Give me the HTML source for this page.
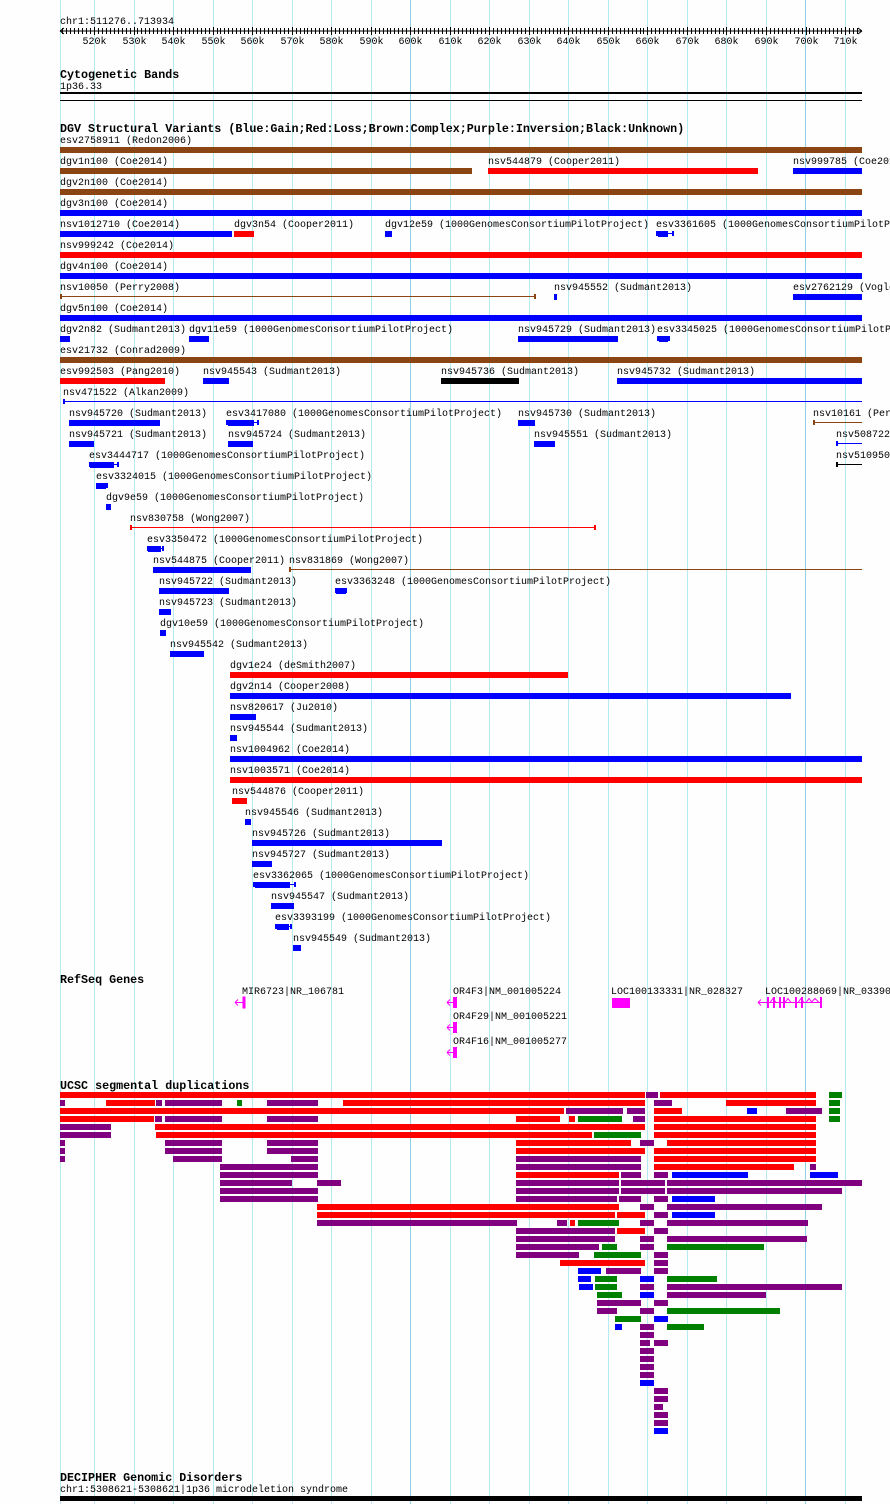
<!DOCTYPE html>
<html><head><meta charset="utf-8">
<style>
body{margin:0;background:#fff;}
#c{position:relative;width:890px;height:1504px;overflow:hidden;background:#fdfefd;}
.t{position:absolute;font-family:"Liberation Mono",monospace;font-size:10px;line-height:12px;white-space:nowrap;color:#000;margin-top:2px;}
.h{position:absolute;font-family:"Liberation Mono",monospace;font-size:11.7px;font-weight:bold;line-height:13px;white-space:nowrap;color:#000;margin-top:2px;}
.b{position:absolute;height:6px;}
.g{position:absolute;top:0;width:1px;height:1504px;background:#b4eaf0;}
</style></head><body><div id="c">
<div id="grid"></div>
<svg style="position:absolute;left:0;top:0" width="890" height="60" id="rul"></svg>
<div class="t" style="left:60px;top:15px">chr1:511276..713934</div>
<div class="h" style="left:60px;top:67px">Cytogenetic Bands</div>
<div class="t" style="left:60px;top:80px">1p36.33</div>
<div class="b" style="left:60px;top:92px;width:802px;height:2px;background:#000"></div>
<div class="b" style="left:60px;top:100px;width:802px;height:1px;background:#000"></div>
<div class="h" style="left:60px;top:121px">DGV Structural Variants (Blue:Gain;Red:Loss;Brown:Complex;Purple:Inversion;Black:Unknown)</div>
<div class="t" style="left:60px;top:134px">esv2758911 (Redon2006)</div>
<div class="t" style="left:60px;top:155px">dgv1n100 (Coe2014)</div>
<div class="t" style="left:488px;top:155px">nsv544879 (Cooper2011)</div>
<div class="t" style="left:793px;top:155px">nsv999785 (Coe2014)</div>
<div class="t" style="left:60px;top:176px">dgv2n100 (Coe2014)</div>
<div class="t" style="left:60px;top:197px">dgv3n100 (Coe2014)</div>
<div class="t" style="left:60px;top:218px">nsv1012710 (Coe2014)</div>
<div class="t" style="left:234px;top:218px">dgv3n54 (Cooper2011)</div>
<div class="t" style="left:385px;top:218px">dgv12e59 (1000GenomesConsortiumPilotProject)</div>
<div class="t" style="left:656px;top:218px">esv3361605 (1000GenomesConsortiumPilotProject)</div>
<div class="t" style="left:60px;top:239px">nsv999242 (Coe2014)</div>
<div class="t" style="left:60px;top:260px">dgv4n100 (Coe2014)</div>
<div class="t" style="left:60px;top:281px">nsv10050 (Perry2008)</div>
<div class="t" style="left:554px;top:281px">nsv945552 (Sudmant2013)</div>
<div class="t" style="left:793px;top:281px">esv2762129 (Vogler2010)</div>
<div class="t" style="left:60px;top:302px">dgv5n100 (Coe2014)</div>
<div class="t" style="left:60px;top:323px">dgv2n82 (Sudmant2013)</div>
<div class="t" style="left:189px;top:323px">dgv11e59 (1000GenomesConsortiumPilotProject)</div>
<div class="t" style="left:518px;top:323px">nsv945729 (Sudmant2013)</div>
<div class="t" style="left:657px;top:323px">esv3345025 (1000GenomesConsortiumPilotProject)</div>
<div class="t" style="left:60px;top:344px">esv21732 (Conrad2009)</div>
<div class="t" style="left:60px;top:365px">esv992503 (Pang2010)</div>
<div class="t" style="left:203px;top:365px">nsv945543 (Sudmant2013)</div>
<div class="t" style="left:441px;top:365px">nsv945736 (Sudmant2013)</div>
<div class="t" style="left:617px;top:365px">nsv945732 (Sudmant2013)</div>
<div class="t" style="left:63px;top:386px">nsv471522 (Alkan2009)</div>
<div class="t" style="left:69px;top:407px">nsv945720 (Sudmant2013)</div>
<div class="t" style="left:226px;top:407px">esv3417080 (1000GenomesConsortiumPilotProject)</div>
<div class="t" style="left:518px;top:407px">nsv945730 (Sudmant2013)</div>
<div class="t" style="left:813px;top:407px">nsv10161 (Perry2008)</div>
<div class="t" style="left:69px;top:428px">nsv945721 (Sudmant2013)</div>
<div class="t" style="left:228px;top:428px">nsv945724 (Sudmant2013)</div>
<div class="t" style="left:534px;top:428px">nsv945551 (Sudmant2013)</div>
<div class="t" style="left:836px;top:428px">nsv508722</div>
<div class="t" style="left:89px;top:449px">esv3444717 (1000GenomesConsortiumPilotProject)</div>
<div class="t" style="left:836px;top:449px">nsv510950</div>
<div class="t" style="left:96px;top:470px">esv3324015 (1000GenomesConsortiumPilotProject)</div>
<div class="t" style="left:106px;top:491px">dgv9e59 (1000GenomesConsortiumPilotProject)</div>
<div class="t" style="left:130px;top:512px">nsv830758 (Wong2007)</div>
<div class="t" style="left:147px;top:533px">esv3350472 (1000GenomesConsortiumPilotProject)</div>
<div class="t" style="left:153px;top:554px">nsv544875 (Cooper2011)</div>
<div class="t" style="left:289px;top:554px">nsv831869 (Wong2007)</div>
<div class="t" style="left:159px;top:575px">nsv945722 (Sudmant2013)</div>
<div class="t" style="left:335px;top:575px">esv3363248 (1000GenomesConsortiumPilotProject)</div>
<div class="t" style="left:159px;top:596px">nsv945723 (Sudmant2013)</div>
<div class="t" style="left:160px;top:617px">dgv10e59 (1000GenomesConsortiumPilotProject)</div>
<div class="t" style="left:170px;top:638px">nsv945542 (Sudmant2013)</div>
<div class="t" style="left:230px;top:659px">dgv1e24 (deSmith2007)</div>
<div class="t" style="left:230px;top:680px">dgv2n14 (Cooper2008)</div>
<div class="t" style="left:230px;top:701px">nsv820617 (Ju2010)</div>
<div class="t" style="left:230px;top:722px">nsv945544 (Sudmant2013)</div>
<div class="t" style="left:230px;top:743px">nsv1004962 (Coe2014)</div>
<div class="t" style="left:230px;top:764px">nsv1003571 (Coe2014)</div>
<div class="t" style="left:232px;top:785px">nsv544876 (Cooper2011)</div>
<div class="t" style="left:245px;top:806px">nsv945546 (Sudmant2013)</div>
<div class="t" style="left:252px;top:827px">nsv945726 (Sudmant2013)</div>
<div class="t" style="left:252px;top:848px">nsv945727 (Sudmant2013)</div>
<div class="t" style="left:253px;top:869px">esv3362065 (1000GenomesConsortiumPilotProject)</div>
<div class="t" style="left:271px;top:890px">nsv945547 (Sudmant2013)</div>
<div class="t" style="left:275px;top:911px">esv3393199 (1000GenomesConsortiumPilotProject)</div>
<div class="t" style="left:293px;top:932px">nsv945549 (Sudmant2013)</div>
<div class="h" style="left:60px;top:972px">RefSeq Genes</div>
<div class="t" style="left:242px;top:985px">MIR6723|NR_106781</div>
<div class="t" style="left:453px;top:985px">OR4F3|NM_001005224</div>
<div class="t" style="left:453px;top:1010px">OR4F29|NM_001005221</div>
<div class="t" style="left:453px;top:1035px">OR4F16|NM_001005277</div>
<div class="t" style="left:611px;top:985px">LOC100133331|NR_028327</div>
<div class="t" style="left:765px;top:985px">LOC100288069|NR_033908</div>
<svg style="position:absolute;left:0;top:990px" width="890" height="70">
<g stroke="#ff00ff" fill="#ff00ff" stroke-width="1">
<path d="M235 12.5h9M235 12.5l3-3M235 12.5l3 3" fill="none"/><rect x="243" y="7" width="2" height="11"/>
<path d="M447 12.5h6M447 12.5l3-3M447 12.5l3 3" fill="none"/><rect x="453" y="7" width="4" height="11" stroke="none"/>
<path d="M447 37.5h6M447 37.5l3-3M447 37.5l3 3" fill="none"/><rect x="453" y="32" width="4" height="11" stroke="none"/>
<path d="M447 62.5h6M447 62.5l3-3M447 62.5l3 3" fill="none"/><rect x="453" y="57" width="4" height="11" stroke="none"/>
<rect x="612" y="8" width="18" height="10" stroke="none"/>
<path d="M758 12.5h64M758 12.5l3-3M758 12.5l3 3M770 12.5l3-4 3 4M785 12.5l3-4 3 4M798 12.5l3-4 3 4 M806 12.5l3-4 3 4 M811 12.5l4-4 4 4" fill="none"/>
<rect x="767" y="7" width="2" height="11" stroke="none"/><rect x="773" y="7" width="2" height="11" stroke="none"/><rect x="779" y="7" width="2" height="11" stroke="none"/><rect x="783" y="7" width="2" height="11" stroke="none"/><rect x="795" y="7" width="2" height="11" stroke="none"/><rect x="801" y="7" width="2" height="11" stroke="none"/><rect x="820" y="7" width="2" height="11" stroke="none"/>
</g></svg>
<div class="h" style="left:60px;top:1078px">UCSC segmental duplications</div>
<div class="h" style="left:60px;top:1470px">DECIPHER Genomic Disorders</div>
<div class="t" style="left:60px;top:1483px">chr1:5308621-5308621|1p36 microdeletion syndrome</div>
<div class="b" style="left:60px;top:1496px;width:802px;height:5px;background:#000"></div>
<div id="bars"></div>
</div>
<script>
(function(){
var c=document.getElementById('grid'),h='';
[60,94,134,173,213,252,292,331,371,410,450,489,529,568,608,647,687,726,766,805,845].forEach(function(x){
h+='<div class="g" style="left:'+x+'px;'+((x==410||x==805)?'background:#8fd0e6':'')+'"></div>';});
c.innerHTML=h;
var s='<line x1="60" y1="31" x2="862" y2="31" stroke="#000"/><path d="M60 31l4-3M60 31l4 3M862 31l-4-3M862 31l-4 3" stroke="#000"/>';
for(var k=512;k<=713;k++){var x=Math.round(94+(k-520)*3.953)+0.5;var m=k%10==0;
s+='<line x1="'+x+'" y1="'+(m?27:28)+'" x2="'+x+'" y2="'+(m?35:34)+'" stroke="#000"/>';
if(m)s+='<text x="'+x+'" y="44" font-family="Liberation Mono,monospace" font-size="10" text-anchor="middle">'+k+'k</text>';}
document.getElementById('rul').innerHTML=s;
var C={r:'#ff0000',b:'#0000ff',n:'#8b4513',k:'#000',p:'#800080',g:'#008000'};
var o='';
function bar(x1,x2,y,col,hh){o+='<div class="b" style="left:'+x1+'px;top:'+y+'px;width:'+(x2-x1)+'px;height:'+(hh||6)+'px;background:'+C[col]+'"></div>';}
function ln(x1,x2,y,col,t1,t2){bar(x1,x2,y,col,1);if(t1)bar(x1,x1+2,y-2,col,5);if(t2)bar(x2-2,x2,y-2,col,5);}
var D=[[147,[[60,862,'n']]],[168,[[60,472,'n'],[488,758,'r'],[793,862,'b']]],[189,[[60,862,'n']]],[210,[[60,862,'b']]],
[231,[[60,232,'b'],[234,254,'r'],[385,392,'b'],[658,668,'b']]],[252,[[60,862,'r']]],[273,[[60,862,'b']]],
[294,[[554,557,'b'],[793,862,'b']]],[315,[[60,862,'b']]],[336,[[60,70,'b'],[189,209,'b'],[518,618,'b'],[659,668,'b']]],
[357,[[60,862,'n']]],[378,[[60,165,'r'],[203,229,'b'],[441,519,'k'],[617,862,'b']]],
[420,[[69,160,'b'],[228,254,'b'],[518,535,'b']]],[441,[[69,94,'b'],[228,253,'b'],[534,555,'b']]],
[462,[[90,114,'b']]],[483,[[96,106,'b']]],[504,[[106,111,'b']]],[546,[[148,161,'b']]],[567,[[153,251,'b']]],
[588,[[159,229,'b'],[336,346,'b']]],[609,[[159,171,'b']]],[630,[[160,166,'b']]],[651,[[170,204,'b']]],
[672,[[230,568,'r']]],[693,[[230,791,'b']]],[714,[[230,256,'b']]],[735,[[230,237,'b']]],[756,[[230,862,'b']]],
[777,[[230,862,'r']]],[798,[[232,247,'r']]],[819,[[245,251,'b']]],[840,[[252,442,'b']]],[861,[[252,272,'b']]],
[882,[[255,290,'b']]],[903,[[271,294,'b']]],[924,[[277,289,'b']]],[945,[[293,301,'b']]]];
D.forEach(function(r){r[1].forEach(function(b){bar(b[0],b[1],r[0],b[2]);});});
ln(656,674,233,'b',1,1);ln(657,670,338,'b',1,1);ln(226,259,422,'b',1,1);ln(89,119,464,'b',1,1);ln(96,108,485,'b',1,1);
ln(147,164,548,'b',1,1);ln(335,347,590,'b',1,1);ln(253,296,884,'b',1,1);ln(275,292,926,'b',1,1);
ln(60,536,296,'n',1,1);ln(63,862,401,'b',1,0);ln(813,862,422,'n',1,0);ln(836,862,443,'b',1,0);ln(836,862,464,'k',1,0);
ln(130,596,527,'r',1,1);ln(289,862,569,'n',1,0);
var S=[
[[60,645,'r'],[646,658,'p'],[660,816,'r'],[829,842,'g']],
[[60,65,'p'],[106,155,'r'],[156,162,'p'],[165,222,'p'],[237,242,'g'],[267,318,'p'],[343,645,'r'],[654,672,'p'],[726,816,'r'],[829,840,'g']],
[[60,564,'r'],[566,623,'p'],[627,645,'p'],[654,682,'r'],[747,757,'b'],[786,822,'p'],[829,840,'g']],
[[60,154,'r'],[155,162,'p'],[165,222,'p'],[267,318,'p'],[516,560,'r'],[569,575,'r'],[578,622,'g'],[633,645,'p'],[654,816,'r'],[829,840,'g']],
[[60,111,'p'],[155,645,'r'],[654,816,'r']],
[[60,111,'p'],[156,592,'r'],[594,641,'g'],[654,816,'r']],
[[60,65,'p'],[165,222,'p'],[267,318,'p'],[516,631,'r'],[640,654,'p'],[667,816,'r']],
[[60,65,'p'],[165,222,'p'],[267,318,'p'],[516,645,'r'],[654,816,'r']],
[[60,65,'p'],[173,222,'p'],[291,318,'p'],[516,641,'p'],[654,816,'r']],
[[220,318,'p'],[516,641,'p'],[654,794,'r'],[810,816,'p']],
[[220,318,'p'],[516,619,'r'],[621,641,'p'],[654,668,'p'],[672,748,'b'],[810,838,'b']],
[[220,292,'p'],[317,341,'p'],[516,619,'p'],[621,665,'p'],[667,862,'p']],
[[220,318,'p'],[516,619,'p'],[621,665,'p'],[667,842,'p']],
[[220,318,'p'],[516,617,'p'],[619,641,'p'],[654,668,'p'],[672,715,'b']],
[[317,619,'r'],[640,654,'p'],[667,822,'p']],
[[317,615,'r'],[617,645,'r'],[654,668,'p'],[672,715,'b']],
[[317,517,'p'],[557,567,'p'],[570,575,'r'],[578,619,'g'],[640,654,'p'],[667,808,'p']],
[[516,615,'p'],[617,645,'r'],[654,668,'p']],
[[516,615,'p'],[640,654,'p'],[667,807,'p']],
[[516,599,'p'],[602,617,'g'],[640,654,'p'],[667,764,'g']],
[[516,579,'p'],[594,641,'g'],[654,668,'p']],
[[560,645,'r'],[654,668,'p']],
[[578,601,'b'],[606,641,'p'],[654,668,'p']],
[[578,591,'b'],[595,617,'g'],[640,654,'b'],[667,717,'g']],
[[579,593,'b'],[595,617,'g'],[640,654,'p'],[667,842,'p']],
[[597,622,'g'],[640,654,'b'],[667,766,'p']],
[[597,641,'p'],[654,668,'p']],
[[597,617,'p'],[640,654,'p'],[667,780,'g']],
[[615,641,'g'],[654,668,'b']],
[[615,622,'b'],[640,654,'p'],[667,704,'g']],
[[640,654,'p']],
[[640,650,'p'],[654,668,'p']],
[[640,654,'p']],[[640,654,'p']],[[640,654,'p']],[[640,654,'p']],
[[640,654,'b']],
[[654,668,'p']],[[654,668,'p']],[[654,663,'p']],[[654,668,'p']],[[654,668,'p']],[[654,668,'b']]];
S.forEach(function(r,i){r.forEach(function(b){bar(b[0],b[1],1092+8*i,b[2]);});});
document.getElementById('bars').innerHTML=o;
})();
</script>
</body></html>
